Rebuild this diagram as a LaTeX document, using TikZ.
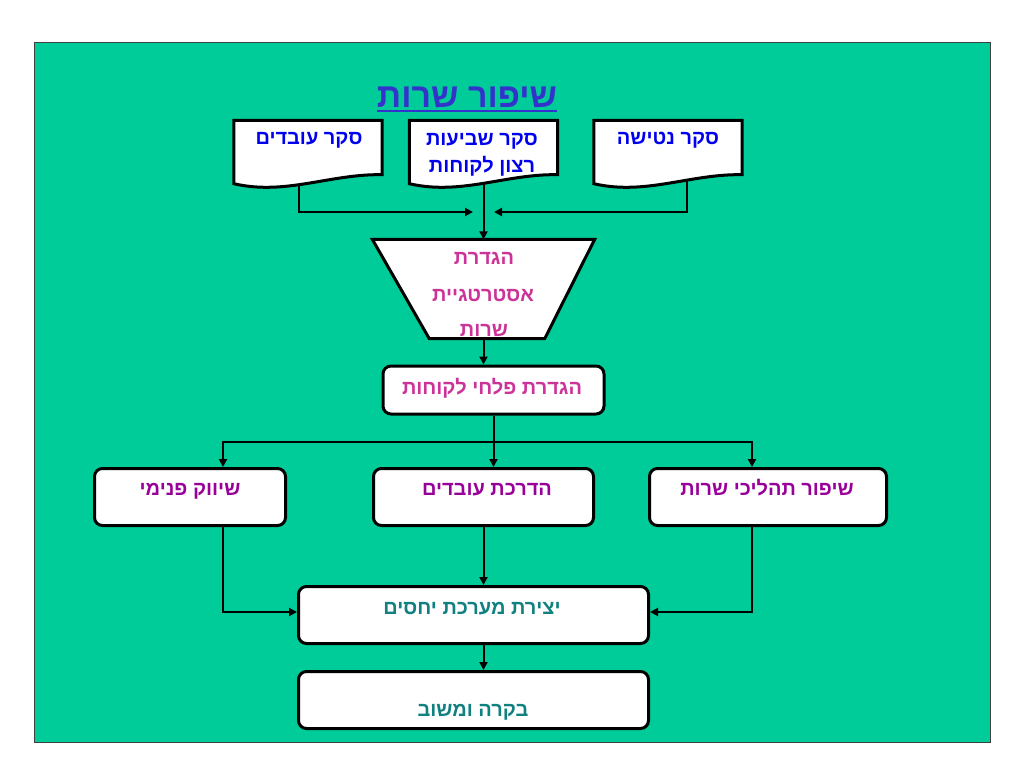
\documentclass[tikz,border=0pt]{standalone}
\usepackage{fontspec}
\newfontfamily\heb[Script=Hebrew]{Liberation Sans}
\TeXXeTstate=1
\usetikzlibrary{calc,arrows.meta}
\pgfdeclarelayer{bg}
\pgfdeclarelayer{conn}
\pgfsetlayers{bg,conn,main}
\definecolor{bggreen}{HTML}{00CC99}
\definecolor{titleblue}{HTML}{3333CC}
\definecolor{docblue}{HTML}{0000EE}
\definecolor{pinkm}{HTML}{CC3399}
\definecolor{purp}{HTML}{990099}
\definecolor{tealt}{HTML}{108080}
\tikzset{
  arrowline/.style={line width=2pt, -{Triangle[length=8pt,width=8pt]}},
  plainline/.style={line width=2pt},
  boxr/.style={draw, line width=3pt, fill=white, rounded corners=8pt, inner sep=0pt},
  area/.style={inner sep=0pt},
  docst/.style={draw, line width=3pt, fill=white, line join=miter},
  lbl/.style={inner sep=0pt, anchor=mid, yshift=-4.5pt, font=\heb\bfseries\fontsize{20}{24}\selectfont},
}
\newcommand\docshape[1]{\draw[docst] (#1.north west) -- (#1.north east) -- ($(#1.south east)+(0,-9)$) .. controls ($(#1.south west)!0.65!(#1.south east)+(0,-10)$) and ($(#1.south west)!0.35!(#1.south east)+(0,12)$) .. (#1.south west) -- cycle;}
\begin{document}
\begin{tikzpicture}[x=1pt,y=-1pt]
\useasboundingbox (0,0) rectangle (1024,768);
\begin{pgfonlayer}{bg}
\fill[white] (0,0) rectangle (1024,768);
\draw[fill=bggreen, draw=black!75, line width=1pt] (34,43) rectangle (990,742);
\end{pgfonlayer}

% title
\node[inner sep=0pt, anchor=mid, yshift=-12pt, text=titleblue, font=\heb\bfseries\fontsize{34}{38}\selectfont] (title) at (467,93) {\beginR שיפור שרות\endR};
\draw[titleblue, line width=2.5pt] ($(title.base west)+(0,4)$) -- ($(title.base east)+(0,4)$);

% documents
\node[area, minimum width=148pt, minimum height=63pt] (dl) at (308,152) {};
\node[area, minimum width=148pt, minimum height=63pt] (dm) at (483.5,152) {};
\node[area, minimum width=148pt, minimum height=63pt] (dr) at (668,152) {};
\docshape{dl}
\docshape{dm}
\docshape{dr}
\node[lbl, text=docblue] (tdl) at (309,138) {\beginR סקר עובדים\endR};
\node[lbl, text=docblue] (tdm1) at (482,139) {\beginR סקר שביעות\endR};
\node[lbl, text=docblue] (tdm2) at (482,165.5) {\beginR רצון לקוחות\endR};
\node[lbl, text=docblue] (tdr) at (668,138) {\beginR סקר נטישה\endR};

% trapezoid
\node[area, minimum width=222pt, minimum height=99pt] (trap) at (483.5,289) {};
\draw[docst] (trap.north west) -- (trap.north east) -- ($(trap.south east)+(-50,0)$) -- ($(trap.south west)+(57,0)$) -- cycle;
\node[lbl, text=pinkm] (tt1) at (484,258) {\beginR הגדרת\endR};
\node[lbl, text=pinkm] (tt2) at (483,295) {\beginR אסטרטגיית\endR};
\node[lbl, text=pinkm] (tt3) at (484,330) {\beginR שרות\endR};

% boxes
\node[boxr, minimum width=221pt, minimum height=48pt] (pal) at (493.5,390) {};
\node[lbl, text=pinkm] (tpal) at (492,388) {\beginR הגדרת פלחי לקוחות\endR};

\node[boxr, minimum width=191pt, minimum height=57pt] (bl) at (190,497) {};
\node[boxr, minimum width=220pt, minimum height=57pt] (bm) at (483.5,497) {};
\node[boxr, minimum width=237pt, minimum height=57pt] (br) at (768,497) {};
\node[lbl, text=purp] (tbl) at (190,489) {\beginR שיווק פנימי\endR};
\node[lbl, text=purp] (tbm) at (487,489) {\beginR הדרכת עובדים\endR};
\node[lbl, text=purp] (tbr) at (767,489) {\beginR שיפור תהליכי שרות\endR};

\node[boxr, minimum width=350pt, minimum height=57pt] (rel) at (473.5,615) {};
\node[boxr, minimum width=350pt, minimum height=57pt] (ctl) at (473.5,700) {};
\node[lbl, text=tealt] (trel) at (472,608) {\beginR יצירת מערכת יחסים\endR};
\node[lbl, text=tealt] (tctl) at (473,710) {\beginR בקרה ומשוב\endR};

% connectors
\coordinate (jl) at (473,212);
\coordinate (jr) at (494,212);
\coordinate (hub) at (493.5,442);
\begin{pgfonlayer}{conn}
\draw[arrowline] ($(dl.center)+(-9,0)$) |- (jl);
\draw[arrowline] ($(dr.center)+(19,0)$) |- (jr);
\draw[arrowline] (dm.center) -- (trap.north);
\draw[arrowline] (trap.south) -- (trap.south |- pal.north);
\draw[plainline] (pal.south) -- (hub);
\draw[arrowline] (hub) -| ($(bl.north)+(33,0)$);
\draw[arrowline] (hub) -| ($(br.north)+(-16,0)$);
\draw[arrowline] (hub) -- (hub |- bm.north);
\draw[arrowline] ($(bl.south)+(33,0)$) |- ($(rel.west)+(0,-3)$);
\draw[arrowline] ($(br.south)+(-16,0)$) |- ($(rel.east)+(0,-3)$);
\draw[arrowline] (bm.south) -- (bm.south |- rel.north);
\draw[arrowline] ($(rel.south)+(10,0)$) -- ($(ctl.north)+(10,0)$);
\end{pgfonlayer}
\end{tikzpicture}
\end{document}
